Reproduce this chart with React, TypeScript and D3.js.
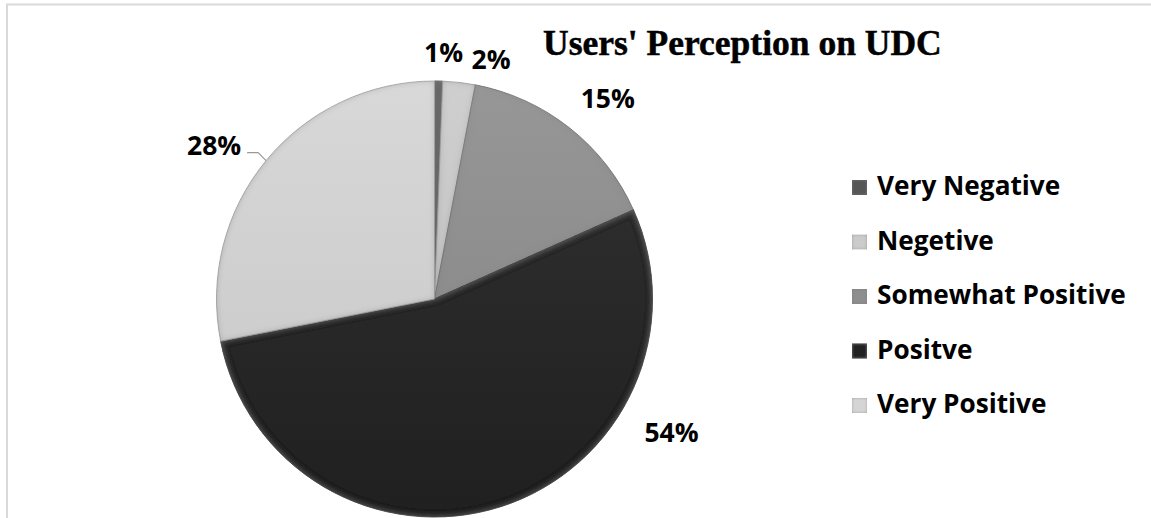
import React from "react";
import * as d3 from "d3";

// chart data
const categories = ["Very Negative", "Negetive", "Somewhat Positive", "Positve", "Very Positive"];
const shares = [0.6, 2.4, 15.3, 53.6, 28.1];
const percentLabels = ["1%", "2%", "15%", "54%", "28%"];
const sliceColors = ["#575757", "#cbcbcb", "#8e8e8e", "#222222", "#d5d5d5"];

// label nudges relative to the rim point at each slice's mid angle
const labelNudge: [number, number][] = [
  [5, -29],
  [32, -23],
  [38, -30],
  [171, -75],
  [-52, -16],
];

const W = 1151;
const H = 518;
const cx = 434.5;
const cy = 299;
const radius = 218;
const sans = "'Open Sans', 'Noto Sans', sans-serif";

const App = () => {
  const pie = d3
    .pie<number>()
    .value((d) => d)
    .sort(null);
  const arcs = pie(shares);
  const arc = d3.arc<d3.PieArcDatum<number>>().innerRadius(0).outerRadius(radius);
  const rim = (a: number, r: number): [number, number] => [Math.sin(a) * r, -Math.cos(a) * r];

  const legendY = d3.scalePoint<string>().domain(categories).range([195, 413]);

  return (
    <svg
      width={W}
      height={H}
      style={{ position: "fixed", left: 0, top: 0, background: "#fff" }}
    >
      <defs>
        <filter id="bevel" x="-5%" y="-5%" width="110%" height="110%">
          <feGaussianBlur in="SourceAlpha" stdDeviation="3" result="blur" />
          <feComposite in="SourceAlpha" in2="blur" operator="arithmetic" k2="1" k3="-1" result="edge" />
          <feFlood floodColor="#7a7a7a" floodOpacity="0.55" result="c" />
          <feComposite in="c" in2="edge" operator="in" result="shade" />
          <feMerge>
            <feMergeNode in="SourceGraphic" />
            <feMergeNode in="shade" />
          </feMerge>
        </filter>
        <filter id="bevelSmall" x="-20%" y="-20%" width="140%" height="140%">
          <feGaussianBlur in="SourceAlpha" stdDeviation="1.5" result="blur" />
          <feComposite in="SourceAlpha" in2="blur" operator="arithmetic" k2="1" k3="-1" result="edge" />
          <feFlood floodColor="#7a7a7a" floodOpacity="0.7" result="c" />
          <feComposite in="c" in2="edge" operator="in" result="shade" />
          <feMerge>
            <feMergeNode in="SourceGraphic" />
            <feMergeNode in="shade" />
          </feMerge>
        </filter>
        <linearGradient id="sheen" x1="0" y1="0" x2="0" y2="1">
          <stop offset="0" stopColor="#fff" stopOpacity="0.08" />
          <stop offset="1" stopColor="#000" stopOpacity="0.06" />
        </linearGradient>
      </defs>

      <rect x={7} y={4.5} width={W + 20} height={H + 20} fill="none" stroke="#d9d9d9" strokeWidth={2} />

      <text
        x={543}
        y={55}
        fontFamily="'Liberation Serif', 'Times New Roman', serif"
        fontWeight="bold"
        fontSize={35.5}
        fill="#000"
        stroke="#000"
        strokeWidth={0.5}
      >
        Users' Perception on UDC
      </text>

      <g transform={`translate(${cx},${cy})`}>
        {arcs.map((d, i) => (
          <path
            key={categories[i]}
            d={arc(d) || ""}
            fill={sliceColors[i]}
            stroke={d3.color(sliceColors[i])!.darker(0.8).toString()}
            strokeWidth={0.8}
            filter="url(#bevel)"
          />
        ))}
        <circle r={radius} fill="url(#sheen)" />
        {arcs.map((d, i) => {
          const mid = (d.startAngle + d.endAngle) / 2;
          const [px, py] = rim(mid, radius);
          const [nx, ny] = labelNudge[i];
          return (
            <text
              key={"l" + i}
              x={px + nx}
              y={py + ny}
              textAnchor="middle"
              dominantBaseline="central"
              fontFamily={sans}
              fontWeight="bold"
              fontSize={26.5}
              fill="#000"
            >
              {percentLabels[i]}
            </text>
          );
        })}
        {arcs.map((d, i) => {
          if (i !== 4) return null;
          const mid = (d.startAngle + d.endAngle) / 2;
          const [px, py] = rim(mid, radius);
          return (
            <polyline
              key="leader"
              points={`${px - 19},${py - 8} ${px - 8},${py - 8} ${px},${py}`}
              fill="none"
              stroke="#999"
              strokeWidth={1.2}
            />
          );
        })}
      </g>

      <g>
        {categories.map((c, i) => {
          const y = legendY(c)!;
          return (
            <g key={c}>
              <rect
                x={852}
                y={y - 15}
                width={15}
                height={15}
                fill={sliceColors[i]}
                filter="url(#bevelSmall)"
              />
              <text x={877} y={y} fontFamily={sans} fontWeight="bold" fontSize={26.2} fill="#000">
                {c}
              </text>
            </g>
          );
        })}
      </g>
    </svg>
  );
};

export default App;
